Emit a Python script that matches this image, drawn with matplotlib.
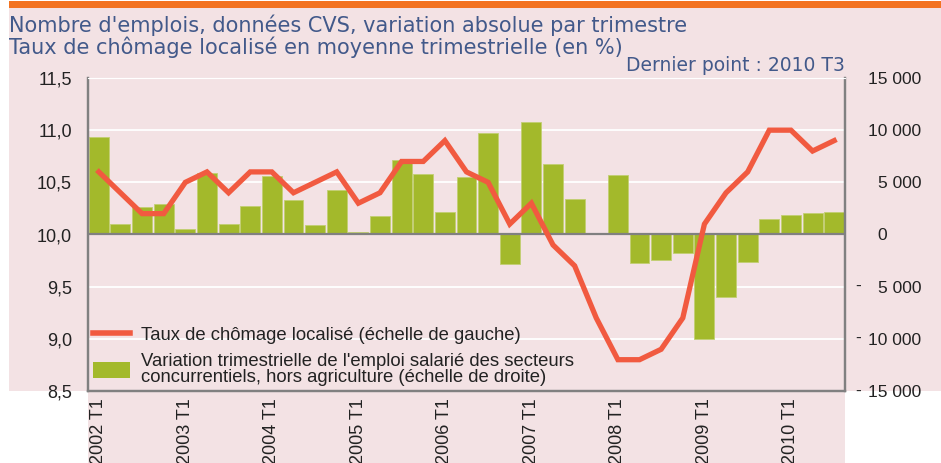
import numpy as np
import matplotlib
matplotlib.use("Agg")
import matplotlib.pyplot as plt
from matplotlib.patches import Rectangle, Polygon, Patch
from matplotlib.lines import Line2D

# Quarterly data, 2002 T1 .. 2010 T3
years = list(range(2002, 2011))
n_quarters = 35
chomage = [10.6, 10.4, 10.2, 10.2, 10.5, 10.6, 10.4, 10.6, 10.6, 10.4,
           10.5, 10.6, 10.3, 10.4, 10.7, 10.7, 10.9, 10.6, 10.5, 10.1,
           10.3, 9.9, 9.7, 9.2, 8.8, 8.8, 8.9, 9.2, 10.1, 10.4,
           10.6, 11.0, 11.0, 10.8, 10.9]
emploi = [9300, 1000, 2600, 2900, 500, 5900, 1000, 2700, 5600, 3300,
          900, 4300, 200, 1800, 7100, 5800, 2200, 5500, 9700, -2800,
          10800, 6800, 3400, 100, 5700, -2700, -2400, -1800, -10000, -6000,
          -2600, 1500, 1900, 2100, 2200]
left_ticks = [8.5, 9.0, 9.5, 10.0, 10.5, 11.0, 11.5]
right_ticks = [-15000, -10000, -5000, 0, 5000, 10000, 15000]

title1 = "Nombre d'emplois, données CVS, variation absolue par trimestre"
title2 = "Taux de chômage localisé en moyenne trimestrielle (en %)"
note = "Dernier point : 2010 T3"
lab_line = "Taux de chômage localisé (échelle de gauche)"
lab_bar = ("Variation trimestrielle de l'emploi salarié des secteurs\n"
           "concurrentiels, hors agriculture (échelle de droite)")

PINK = "#f3e2e4"
ORANGE = "#f37321"
PLOTBG = "#d5dce8"
GREEN = "#a3b92b"
RED = "#f15a40"
BLUE = "#42598a"
GREY = "#808080"
TXT = "#222222"

plt.rcParams['font.family'] = ['Liberation Sans', 'DejaVu Sans']

W, H = 941, 463
fig = plt.figure(figsize=(W / 100, H / 100), dpi=100, facecolor="white")

def fx(px):
    return px / W

def fy(py):
    return 1 - py / H

# pink panel + orange strip
pink = Polygon([(fx(9), fy(8)), (fx(941), fy(8)), (fx(941), fy(391)),
                (fx(845), fy(391)), (fx(845), fy(463)), (fx(88), fy(463)),
                (fx(88), fy(391)), (fx(9), fy(391))],
               closed=True, transform=fig.transFigure, facecolor=PINK,
               edgecolor="none", zorder=-10)
fig.add_artist(pink)
fig.add_artist(Rectangle((fx(9), fy(8)), fx(932), 7 / H, transform=fig.transFigure,
                         facecolor=ORANGE, edgecolor="none", zorder=-9))

ax = fig.add_axes([fx(88), fy(391), fx(845 - 88), (391 - 78) / H])
ax2 = ax.twinx()
ax.set_zorder(ax2.get_zorder() + 1)
ax.patch.set_visible(False)
ax2.set_facecolor(PLOTBG)

x = np.arange(n_quarters)

# bars (right scale)
ax2.bar(x, emploi, width=0.92, color=GREEN, edgecolor="#c2cf72", linewidth=0.6, zorder=2)
ax2.axhline(0, color=GREY, lw=1.6, zorder=3)
ax2.set_ylim(-15000, 15000)
ax2.set_yticks(right_ticks)
rlabels = []
for v in right_ticks:
    s = f"{abs(v):,}".replace(",", " ")
    rlabels.append(s if v != 0 else "0       ")
ax2.set_yticklabels(rlabels, fontsize=12.5, color=TXT)
for lab in ax2.get_yticklabels():
    lab.set_ha("right")
ax2.tick_params(axis="y", length=0, pad=55)
for v in right_ticks:
    if v < 0:
        ax2.annotate("-", xy=(1, v), xycoords=("axes fraction", "data"),
                     xytext=(10, 0), textcoords="offset pixels",
                     ha="left", va="center", fontsize=12.5, color=TXT)
ax2.grid(True, color="white", lw=1.3)
ax2.set_axisbelow(True)

# line (left scale)
ax.plot(x, chomage, color=RED, lw=3.8, solid_joinstyle="miter", zorder=5)
ax.set_ylim(8.5, 11.5)
ax.set_yticks(left_ticks)
ax.set_yticklabels([f"{v:.1f}".replace(".", ",") for v in left_ticks],
                   fontsize=13, color=TXT)
ax.tick_params(axis="y", length=0, pad=11.5)
ax.set_xlim(-0.5, n_quarters - 0.5)
ax.set_xticks(x[::4])
ax.set_xticklabels([f"{y} T1" for y in years], rotation=90, fontsize=13,
                   color=TXT, va="top")
ax.tick_params(axis="x", length=0, pad=5)

for a in (ax, ax2):
    a.spines["top"].set_color("white")
    for s in ("left", "right", "bottom"):
        a.spines[s].set_color(GREY)
        a.spines[s].set_linewidth(1.6)

handles = [Line2D([], [], color=RED, lw=4),
           Patch(facecolor=GREEN, edgecolor="none")]
leg = ax.legend(handles, [lab_line, lab_bar], loc="lower left",
                bbox_to_anchor=(0.0, 0.0), frameon=False, fontsize=13.3,
                handlelength=2.05, handleheight=1.0, handletextpad=0.55,
                labelspacing=0.47, borderpad=0.1, borderaxespad=0.15)
for t in leg.get_texts():
    t.set_linespacing(0.95)
    t.set_color(TXT)

# titles
fig.text(fx(9), fy(32), title1, fontsize=15, color=BLUE, va="baseline",
         family=['DejaVu Sans'])
fig.text(fx(9), fy(54), title2, fontsize=15, color=BLUE, va="baseline",
         family=['DejaVu Sans'])
fig.text(fx(845), fy(71), note, fontsize=13.5, color=BLUE, va="baseline",
         ha="right", family=['DejaVu Sans'])

fig.savefig("out.png", dpi=100, facecolor="white")
